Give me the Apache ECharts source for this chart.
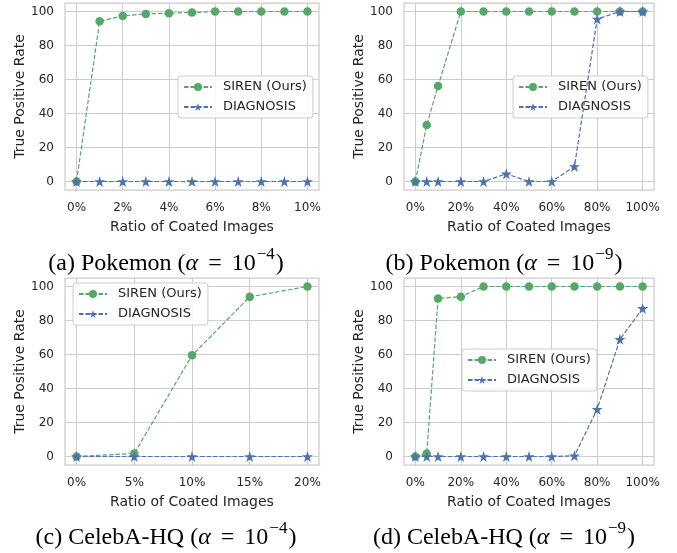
<!DOCTYPE html>
<html>
<head>
<meta charset="utf-8">
<script src="https://cdn.jsdelivr.net/npm/echarts@6/dist/echarts.min.js"></script>
<style>
html,body{margin:0;padding:0;background:#fff;}
#chart{width:677px;height:553px;}
</style>
</head>
<body>
<div id="chart"></div>
<script>
// ---- data ----
const xA = [0, 1, 2, 3, 4, 5, 6, 7, 8, 9, 10];
const sirenA = [0, 94.3, 97.4, 98.6, 99.0, 99.4, 100, 100, 100, 100, 100];
const diagA = [0, 0, 0, 0, 0, 0, 0, 0, 0, 0, 0];

const xB = [0, 5, 10, 20, 30, 40, 50, 60, 70, 80, 90, 100];
const sirenB = [0, 33.3, 56.2, 100, 100, 100, 100, 100, 100, 100, 100, 100];
const diagB = [0, 0, 0, 0, 0, 4.5, 0, 0, 8.8, 95.6, 100, 100];

const xC = [0, 5, 10, 15, 20];
const sirenC = [0, 1.8, 59.5, 93.9, 100];
const diagC = [0, 0, 0, 0, 0];

const xD = [0, 5, 10, 20, 30, 40, 50, 60, 70, 80, 90, 100];
const sirenD = [0, 1.8, 93.0, 94.0, 100, 100, 100, 100, 100, 100, 100, 100];
const diagD = [0, 0, 0, 0, 0, 0, 0, 0, 0.4, 27.8, 68.9, 87.1];

const yTicks = [0, 20, 40, 60, 80, 100];
const xTicksA = [0, 2, 4, 6, 8, 10];
const xTicksB = [0, 20, 40, 60, 80, 100];
const xTicksC = [0, 5, 10, 15, 20];
const xTicksD = [0, 20, 40, 60, 80, 100];

const seriesNames = ['SIREN (Ours)', 'DIAGNOSIS'];
const captions = [
  ['(a) Pokemon (', '−4'],
  ['(b) Pokemon (', '−9'],
  ['(c) CelebA-HQ (', '−4'],
  ['(d) CelebA-HQ (', '−9']
];
const xTitle = 'Ratio of Coated Images';
const yTitle = 'True Positive Rate';

// ---- styling ----
const GREEN = '#55a868';
const BLUE = '#4c72b0';
const GRIDC = '#cccccc';
const TXT = '#262626';
const STAR = 'path://M50,0 L61.2,34.5 L97.6,34.5 L68.2,55.9 L79.4,90.5 L50,69.1 L20.6,90.5 L31.8,55.9 L2.4,34.5 L38.8,34.5 Z';

const grids = [
  {left: 65, top: 3, width: 254, height: 187},
  {left: 404, top: 3, width: 250, height: 187},
  {left: 65, top: 278, width: 254, height: 187},
  {left: 404, top: 278, width: 250, height: 187}
];
const xRanges = [[-0.5, 10.5], [-5, 105], [-1, 21], [-5, 105]];
const xTickSets = [xTicksA, xTicksB, xTicksC, xTicksD];
const xs = [xA, xB, xC, xD];
const sirens = [sirenA, sirenB, sirenC, sirenD];
const diags = [diagA, diagB, diagC, diagD];
const legendPos = [
  {left: 178, top: 76},
  {left: 513, top: 76},
  {left: 73, top: 283},
  {left: 462, top: 349}
];
const captionPos = [[166, 261], [504, 261], [166, 535], [504, 535]];

function pairs(x, y) { return x.map((v, i) => [v, y[i]]); }

const serif = 'Liberation Serif';
const option = {
  animation: false,
  backgroundColor: '#fff',
  grid: grids.map(g => Object.assign({show: true, borderColor: GRIDC, borderWidth: 1.25, backgroundColor: '#fff'}, g)),
  xAxis: grids.map((g, i) => ({
    type: 'value', gridIndex: i,
    min: xRanges[i][0], max: xRanges[i][1],
    axisLine: {show: false},
    axisTick: {show: false, customValues: xTickSets[i]},
    axisLabel: {customValues: xTickSets[i], formatter: v => v + '%', color: TXT, fontSize: 12, margin: 12, fontFamily: 'DejaVu Sans'},
    splitLine: {show: true, lineStyle: {color: GRIDC, width: 1}},
    name: xTitle, nameLocation: 'middle', nameGap: 30,
    nameTextStyle: {color: TXT, fontSize: 14, fontFamily: 'DejaVu Sans'}
  })),
  yAxis: grids.map((g, i) => ({
    type: 'value', gridIndex: i,
    min: -5, max: 105,
    axisLine: {show: false},
    axisTick: {show: false, customValues: yTicks},
    axisLabel: {customValues: yTicks, color: TXT, fontSize: 12, margin: 11, fontFamily: 'DejaVu Sans'},
    splitLine: {show: true, lineStyle: {color: GRIDC, width: 1}},
    name: yTitle, nameLocation: 'middle', nameGap: 38,
    nameTextStyle: {color: TXT, fontSize: 14, fontFamily: 'DejaVu Sans'}
  })),
  legend: legendPos.map(p => ({
    left: p.left, top: p.top, orient: 'vertical',
    data: seriesNames,
    itemWidth: 28, itemHeight: 10, itemGap: 6,
    padding: [4, 6, 4, 5],
    backgroundColor: 'rgba(255,255,255,0.85)',
    borderColor: GRIDC, borderWidth: 1, borderRadius: 3,
    selectedMode: false,
    textStyle: {color: TXT, fontSize: 13, fontFamily: 'DejaVu Sans', padding: [0, 0, 0, 6], lineHeight: 14}
  })),
  series: [],
  graphic: captionPos.map((p, i) => ({
    type: 'text', x: p[0], y: p[1],
    style: {
      text: '{m|' + captions[i][0] + '}{i|α}{e|=}{m|10}{s|' + captions[i][1] + '}{m|)}',
      align: 'center', verticalAlign: 'middle',
      rich: {
        m: {fontFamily: serif, fontSize: 24, lineHeight: 30, color: '#000', verticalAlign: 'bottom'},
        i: {fontFamily: serif, fontStyle: 'italic', fontSize: 24, lineHeight: 30, color: '#000', verticalAlign: 'bottom'},
        e: {fontFamily: serif, fontSize: 24, lineHeight: 30, color: '#000', verticalAlign: 'bottom', padding: [0, 10, 0, 10]},
        s: {fontFamily: serif, fontSize: 17, lineHeight: 17, color: '#000', verticalAlign: 'top', padding: [0, 1, 0, 1]}
      }
    }
  }))
};

for (let i = 0; i < 4; i++) {
  option.series.push({
    name: seriesNames[0], type: 'line', xAxisIndex: i, yAxisIndex: i,
    data: pairs(xs[i], sirens[i]),
    symbol: 'circle', symbolSize: 8.5,
    itemStyle: {color: GREEN},
    lineStyle: {color: GREEN, width: 1.2, type: [4.5, 2]},
    z: 3
  });
  option.series.push({
    name: seriesNames[1], type: 'line', xAxisIndex: i, yAxisIndex: i,
    data: pairs(xs[i], diags[i]),
    symbol: STAR, symbolSize: 11,
    itemStyle: {color: BLUE},
    lineStyle: {color: BLUE, width: 1.2, type: [4.5, 2]},
    z: 4
  });
}

const chart = echarts.init(document.getElementById('chart'), null, {renderer: 'canvas'});
chart.setOption(option);
</script>
</body>
</html>
